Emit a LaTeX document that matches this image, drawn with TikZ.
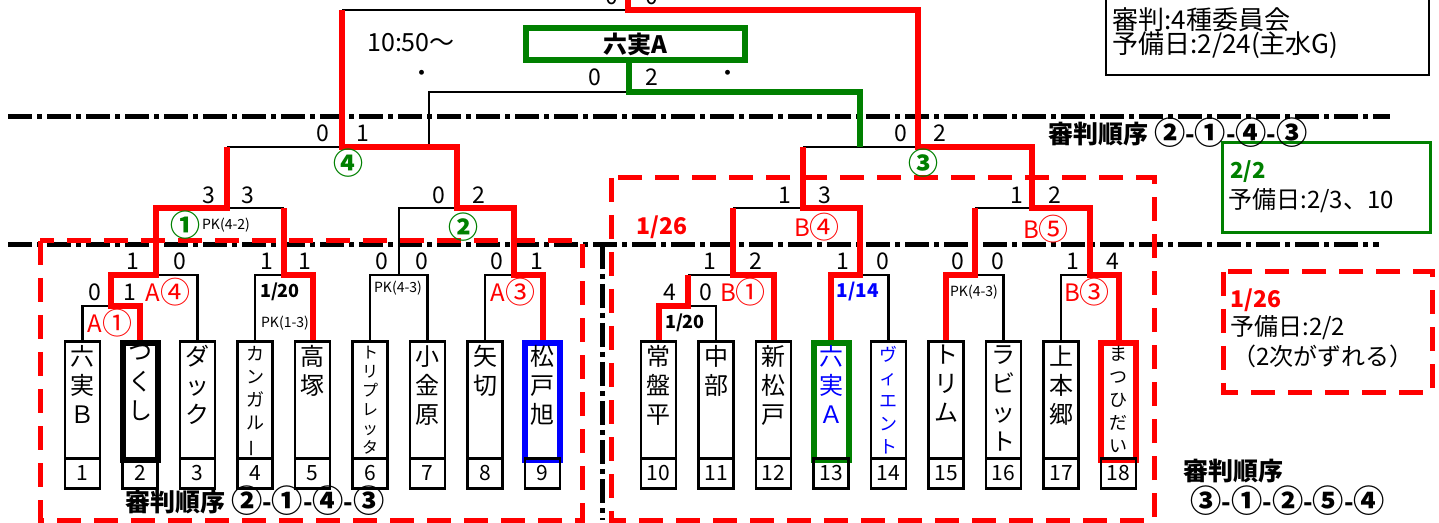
\documentclass[tikz,border=0pt]{standalone}
\usepackage{fontspec}
\setmainfont{Noto Sans CJK JP}
\usepackage{tikz}
\definecolor{okgreen}{RGB}{0,128,0}
\newcommand{\cn}[1]{\raisebox{-0.07em}{\scalebox{1.25}{#1}}}
\tikzset{
  lose/.style={line width=1.3pt},
  win/.style={red,line width=3pt},
  third/.style={okgreen,line width=2.6pt},
  namebox/.style={draw,line width=1.3pt,minimum width=17.5pt,minimum height=58.5pt,inner sep=0pt,anchor=north},
  numbox/.style={draw,line width=1.3pt,minimum width=17.5pt,minimum height=15pt,inner sep=0pt,anchor=north,font=\fontsize{10.5}{12}\selectfont},
  chars/.style={anchor=north,align=center,inner sep=0pt,yshift=-2.5pt,font=\fontsize{12}{14.5}\selectfont},
  smallchars/.style={anchor=north,align=center,inner sep=0pt,yshift=-3pt,font=\fontsize{9}{11.5}\selectfont},
  score/.style={inner sep=0pt,font=\fontsize{11.5}{12}\selectfont},
  slot/.style={red,inner sep=0pt,font=\fontsize{12}{12}\selectfont},
  judge/.style={okgreen,inner sep=0pt,font=\bfseries\fontsize{12}{12}\selectfont},
  pk/.style={inner sep=0pt,font=\fontsize{7}{8}\selectfont},
  date/.style={inner sep=0pt,font=\bfseries\fontsize{9}{10}\selectfont},
  order/.style={inner sep=0pt,font=\bfseries\fontsize{12.5}{13}\selectfont},
  note/.style={inner sep=0pt,anchor=west,font=\fontsize{12}{12.5}\selectfont},
  zone/.style={red,line width=2.5pt,dash pattern=on 12pt off 6.5pt},
  divider/.style={line width=2.5pt,dash pattern=on 12pt off 2.5pt on 2.5pt off 2.5pt}
}

\begin{document}
\begin{tikzpicture}[x=0.5pt,y=-0.5pt]
\useasboundingbox (0,0) rectangle (1439,523);

\draw[divider] (8,117) -- (1390,117);
\draw[divider] (8,245) -- (1379,245);
\draw[divider] (602,245) -- (602,520);
\draw[zone] (40,241) rectangle (582,520);
\draw[zone] (611,178) rectangle (1154,520);
\draw[zone] (1223,272) rectangle (1432,392);
\draw[line width=1pt] (1106,-10) rectangle (1429,75);
\draw[okgreen,line width=1.5pt] (1222,143) rectangle (1430,233);

\node[namebox] (t1) at (82.5,340) {};
\node[namebox,line width=3pt] (t2) at (140,340) {};
\node[namebox] (t3) at (197.5,340) {};
\node[namebox] (t4) at (255,340) {};
\node[namebox] (t5) at (312.5,340) {};
\node[namebox] (t6) at (370,340) {};
\node[namebox] (t7) at (427.5,340) {};
\node[namebox] (t8) at (485,340) {};
\node[namebox,draw=blue,line width=3pt] (t9) at (542.5,340) {};
\node[namebox] (t10) at (658.5,340) {};
\node[namebox] (t11) at (716,340) {};
\node[namebox] (t12) at (773.5,340) {};
\node[namebox,draw=okgreen,line width=3pt] (t13) at (831,340) {};
\node[namebox] (t14) at (888.5,340) {};
\node[namebox] (t15) at (946,340) {};
\node[namebox] (t16) at (1003.5,340) {};
\node[namebox] (t17) at (1061,340) {};
\node[namebox,draw=red,line width=3pt] (t18) at (1118.5,340) {};

\node[chars] (c1) at (t1.north) {六\\実\\Ｂ};
\node[chars] (c2) at (t2.north) {つ\\く\\し};
\node[chars] (c3) at (t3.north) {ダ\\ッ\\ク};
\node[smallchars] (c4) at (t4.north) {カ\\ン\\ガ\\ル\\\rotatebox[origin=c]{90}{ー}};
\node[chars] (c5) at (t5.north) {高\\塚};
\node[smallchars,font=\fontsize{8}{9.5}\selectfont] (c6) at (t6.north) {ト\\リ\\プ\\レ\\ッ\\タ};
\node[chars] (c7) at (t7.north) {小\\金\\原};
\node[chars] (c8) at (t8.north) {矢\\切};
\node[chars] (c9) at (t9.north) {松\\戸\\旭};
\node[chars] (c10) at (t10.north) {常\\盤\\平};
\node[chars] (c11) at (t11.north) {中\\部};
\node[chars] (c12) at (t12.north) {新\\松\\戸};
\node[chars,blue] (c13) at (t13.north) {六\\実\\Ａ};
\node[smallchars,blue] (c14) at (t14.north) {ヴ\\ィ\\エ\\ン\\ト};
\node[chars] (c15) at (t15.north) {ト\\リ\\ム};
\node[chars] (c16) at (t16.north) {ラ\\ビ\\ッ\\ト};
\node[chars] (c17) at (t17.north) {上\\本\\郷};
\node[smallchars] (c18) at (t18.north) {ま\\つ\\ひ\\だ\\い};

\node[numbox] (n1) at (82.5,457) {1};
\node[numbox] (n2) at (140,457) {2};
\node[numbox] (n3) at (197.5,457) {3};
\node[numbox] (n4) at (255,457) {4};
\node[numbox] (n5) at (312.5,457) {5};
\node[numbox] (n6) at (370,457) {6};
\node[numbox] (n7) at (427.5,457) {7};
\node[numbox] (n8) at (485,457) {8};
\node[numbox] (n9) at (542.5,457) {9};
\node[numbox] (n10) at (658.5,457) {10};
\node[numbox] (n11) at (716,457) {11};
\node[numbox] (n12) at (773.5,457) {12};
\node[numbox] (n13) at (831,457) {13};
\node[numbox] (n14) at (888.5,457) {14};
\node[numbox] (n15) at (946,457) {15};
\node[numbox] (n16) at (1003.5,457) {16};
\node[numbox] (n17) at (1061,457) {17};
\node[numbox] (n18) at (1118.5,457) {18};

\coordinate (mA1) at (111,306);
\coordinate (mA4) at (156,275);
\coordinate (m45) at (284,275);
\coordinate (m67) at (399,275);
\coordinate (m89) at (514,275);
\coordinate (m1) at (227,208);
\coordinate (m2) at (457,208);
\coordinate (m4) at (342,147);
\coordinate (m1011) at (688,306);
\coordinate (mB1) at (733,275);
\coordinate (m1314) at (860,275);
\coordinate (m1516) at (975,275);
\coordinate (m1718) at (1090,275);
\coordinate (mB4) at (803,208);
\coordinate (mB5) at (1032,208);
\coordinate (m3) at (918,147);
\coordinate (mF) at (628,10);
\coordinate (mFtop) at (628,-30);
\coordinate (mP) at (629,92);
\coordinate (pl) at (429,147);
\coordinate (pr) at (860,147);

\node[draw=okgreen,line width=3pt,minimum width=109.5pt,minimum height=16pt,inner sep=0pt,font=\bfseries\fontsize{12}{12}\selectfont] (champ) at (635.5,44) {六実A};

\draw[lose] (t1.north) |- (mA1);
\draw[lose] (t3.north) |- (mA4);
\draw[lose] (t4.north) |- (m45);
\draw[lose] (t6.north) |- (m67) -| (t7.north);
\draw[lose] (t8.north) |- (m89);
\draw[lose] (m45 |- m1) -- (m1);
\draw[lose] (m67) |- (m2);
\draw[lose] (m1 |- m4) -- (m4);
\draw[lose] (m4 |- mF) -- (mF);
\draw[lose] (pl) |- (mP);
\draw[lose] (t11.north) |- (m1011);
\draw[lose] (m1011 |- mB1) -- (mB1);
\draw[lose] (t14.north) |- (m1314);
\draw[lose] (mB1 |- mB4) -- (mB4);
\draw[lose] (t16.north) |- (m1516);
\draw[lose] (t17.north) |- (m1718);
\draw[lose] (m1516 |- mB5) -- (mB5);
\draw[lose] (mB4 |- m3) -- (m3);

\draw[win] (t2.north) |- (mA1) |- (mA4) |- (m1) -- (m1 |- m4);
\draw[win] (t5.north) |- (m45) -- (m45 |- m1);
\draw[win] (t9.north) |- (m89) |- (m2) |- (m4) -- (m4 |- mF);
\draw[win] (t10.north) |- (m1011) -- (m1011 |- mB1);
\draw[win] (t12.north) |- (mB1) -- (mB1 |- mB4);
\draw[win] (t13.north) |- (m1314) |- (mB4) -- (mB4 |- m3);
\draw[win] (t15.north) |- (m1516) -- (m1516 |- mB5);
\draw[win] (t18.north) |- (m1718) |- (mB5) |- (m3) |- (mF) -- (mFtop);
\draw[third] (pr) |- (mP) -- (mP |- champ.south);

\node[score] (sF1) at (612,-4) {0};
\node[score] (sF2) at (652,-4) {0};
\node[score] (sP1) at (595,77) {0};
\node[score] (sP2) at (652,77) {2};
\node[score] (s41) at (323,133) {0};
\node[score] (s42) at (363,133) {1};
\node[score] (s31) at (901,133) {0};
\node[score] (s32) at (940,133) {2};
\node[score] (s11) at (209,195) {3};
\node[score] (s12) at (248,195) {3};
\node[score] (s21) at (439,195) {0};
\node[score] (s22) at (479,195) {2};
\node[score] (sB41) at (785,195) {1};
\node[score] (sB42) at (825,195) {3};
\node[score] (sB51) at (1017,195) {1};
\node[score] (sB52) at (1055,195) {2};
\node[score] (sA41) at (133,261) {1};
\node[score] (sA42) at (180,261) {0};
\node[score] (s451) at (267,261) {1};
\node[score] (s452) at (305,261) {1};
\node[score] (s671) at (382,261) {0};
\node[score] (s672) at (422,261) {0};
\node[score] (s891) at (497,261) {0};
\node[score] (s892) at (537,261) {1};
\node[score] (sB11) at (710,261) {1};
\node[score] (sB12) at (756,261) {2};
\node[score] (s13a) at (843,261) {1};
\node[score] (s13b) at (883,261) {0};
\node[score] (s15a) at (958,261) {0};
\node[score] (s15b) at (998,261) {0};
\node[score] (s17a) at (1073,261) {1};
\node[score] (s17b) at (1113,261) {4};
\node[score] (sA11) at (95,292) {0};
\node[score] (sA12) at (130,292) {1};
\node[score] (s101) at (670,292) {4};
\node[score] (s102) at (706,292) {0};

\node[judge] (j4) at (348,163) {\cn{④}};
\node[judge] (j3) at (923,163) {\cn{③}};
\node[judge] (j1) at (185,225) {\cn{①}};
\node[judge] (j2) at (463,227) {\cn{②}};
\node[pk] (pk1) at (226,225) {PK(4-2)};
\node[pk] (pk45) at (285,323) {PK(1-3)};
\node[pk] (pk67) at (398,288) {PK(4-3)};
\node[pk] (pk1516) at (974,292) {PK(4-3)};
\node[slot] (lA4) at (168,292) {A\cn{④}};
\node[slot] (lA1) at (110,323) {A\cn{①}};
\node[slot] (lA3) at (513,292) {A\cn{③}};
\node[slot] (lB1) at (743,292) {B\cn{①}};
\node[slot] (lB4) at (817,227) {B\cn{④}};
\node[slot] (lB5) at (1046,229) {B\cn{⑤}};
\node[slot] (lB3) at (1087,292) {B\cn{③}};
\node[date] (d45) at (280,292) {1/20};
\node[date] (d1011) at (685,323) {1/20};
\node[date,blue,font=\bfseries\fontsize{9.5}{10}\selectfont] (d1314) at (858,292) {1/14};
\node[date,red,font=\bfseries\fontsize{11.5}{12}\selectfont] (dB) at (662,227) {1/26};

\node[score,font=\fontsize{12.5}{13}\selectfont] (time) at (411,43) {10:50〜};
\node[score] (dot1) at (422,76) {・};
\node[score] (dot2) at (728,76) {・};

\node[order] (ordTop) at (1178,133) {審判順序 \cn{②}-\cn{①}-\cn{④}-\cn{③}};
\node[order] (ordA) at (255,501) {審判順序 \cn{②}-\cn{①}-\cn{④}-\cn{③}};
\node[order,anchor=west] (ordB1) at (1183,471) {審判順序};
\node[order,anchor=west] (ordB2) at (1190,501) {\cn{③}-\cn{①}-\cn{②}-\cn{⑤}-\cn{④}};

\node[note,font=\fontsize{13}{13.5}\selectfont] (info1) at (1112,20) {審判:4種委員会};
\node[note,font=\fontsize{13}{13.5}\selectfont] (info2) at (1112,45) {予備日:2/24(主水G)};
\node[note,okgreen,font=\bfseries\fontsize{11}{12}\selectfont] (g1) at (1230,172) {2/2};
\node[note] (g2) at (1228,201) {予備日:2/3、10};
\node[note,red,font=\bfseries\fontsize{11.5}{12}\selectfont] (r1) at (1230,300) {1/26};
\node[note] (r2) at (1230,328) {予備日:2/2};
\node[note] (r3) at (1232,356) {（2次がずれる）};
\end{tikzpicture}
\end{document}
